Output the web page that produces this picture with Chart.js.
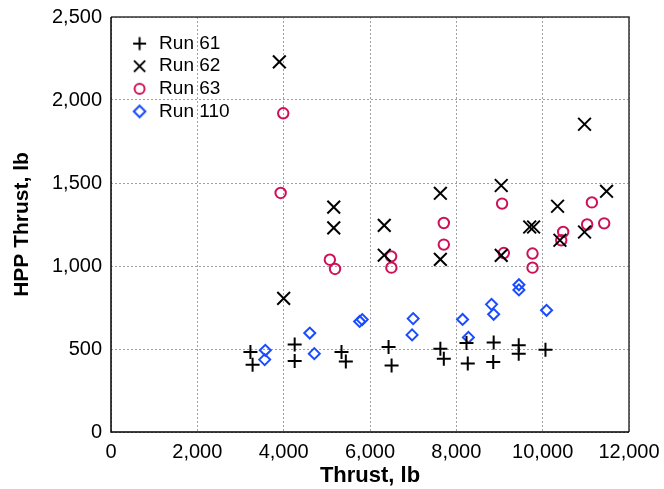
<!DOCTYPE html>
<html><head><meta charset="utf-8">
<script src="https://cdn.jsdelivr.net/npm/chart.js@4.4.1/dist/chart.umd.min.js"></script>
<style>html,body{margin:0;padding:0;background:#fff}#wrap{width:664px;height:489px}</style>
</head><body><div id="wrap"><canvas id="c" width="664" height="489"></canvas></div>
<script>
// ---- data ----
const seriesNames = ['Run 61', 'Run 62', 'Run 63', 'Run 110'];

const run61Thrust = [3230, 3280, 4255, 4255, 5340, 5440, 6430, 6500, 7630, 7710, 8235, 8265, 8865, 8855, 9445, 9445, 10065];
const run61Hpp    = [ 482,  405,  527,  427,  482,  424,  512,  400,  502,  442,  536,  412,  539,  422,  522,  472,   496];

const run62Thrust = [3900, 4000, 5160, 5160, 6330, 6330, 7630, 7630, 9040, 9040, 9700, 9790, 10345, 10400, 10970, 10970, 11480];
const run62Hpp    = [2230,  805, 1355, 1230, 1245, 1065, 1438, 1040, 1485, 1064, 1235, 1235,  1360,  1155,  1854,  1205,  1450];

const run63Thrust = [3990, 3930, 5070, 5190, 6490, 6495, 7710, 7710, 9060, 9100, 9765, 9765, 10475, 10430, 11030, 11140, 11425];
const run63Hpp    = [1920, 1440, 1038,  982, 1058,  990, 1259, 1129, 1376, 1078, 1075,  990,  1205,  1155,  1250,  1383,  1257];

const run110Thrust = [3575, 3560, 4605, 4710, 5760, 5820, 7000, 6975, 8145, 8280, 8815, 8865, 9450, 9450, 10090];
const run110Hpp    = [ 492,  436,  596,  472,  666,  677,  683,  585,  678,  570,  769,  709,  887,  856,   733];

const xTickValues = [0, 2000, 4000, 6000, 8000, 10000, 12000];
const yTickValues = [0, 500, 1000, 1500, 2000, 2500];

const xTitle = 'Thrust, lb';
const yTitle = 'HPP Thrust, lb';

// ---- styles ----
const BLACK = '#000000', CRIMSON = '#cf1058', BLUE = '#1a4cff';
const FONT = '"Liberation Sans", Arial, Helvetica, sans-serif';

function pts(xs, ys) { return xs.map((x, i) => ({x: x, y: ys[i]})); }

function legendMarker(kind, color) {
  const c = document.createElement('canvas');
  c.width = 40; c.height = 22;
  const g = c.getContext('2d');
  const cx = 27.5, cy = 11;
  g.strokeStyle = color; g.lineWidth = 2; g.beginPath();
  if (kind === 'plus') { g.moveTo(cx - 6.5, cy); g.lineTo(cx + 6.5, cy); g.moveTo(cx, cy - 6.5); g.lineTo(cx, cy + 6.5); }
  else if (kind === 'x') { const r = 5.6; g.moveTo(cx - r, cy - r); g.lineTo(cx + r, cy + r); g.moveTo(cx + r, cy - r); g.lineTo(cx - r, cy + r); }
  else if (kind === 'circle') { g.arc(cx, cy, 5, 0, Math.PI * 2); }
  else { const r = 5.8; g.moveTo(cx - r, cy); g.lineTo(cx, cy - r); g.lineTo(cx + r, cy); g.lineTo(cx, cy + r); g.closePath(); }
  g.stroke();
  return c;
}
const legendImgs = [legendMarker('plus', BLACK), legendMarker('x', BLACK), legendMarker('circle', CRIMSON), legendMarker('diamond', BLUE)];

const framePlugin = {
  id: 'frame',
  beforeDatasetsDraw(chart) {
    const a = chart.chartArea, ctx = chart.ctx;
    ctx.save();
    ctx.lineWidth = 1.5;
    ctx.strokeStyle = '#333';
    ctx.beginPath();
    ctx.moveTo(a.left, a.top); ctx.lineTo(a.right, a.top); ctx.lineTo(a.right, a.bottom);
    ctx.stroke();
    ctx.strokeStyle = '#000';
    ctx.beginPath();
    ctx.moveTo(a.left, a.top); ctx.lineTo(a.left, a.bottom); ctx.lineTo(a.right, a.bottom);
    ctx.stroke();
    ctx.restore();
  }
};

const fmt = v => Number(v).toLocaleString('en-US');
function noPad(s) { s.paddingLeft = 0; s.paddingRight = 0; s.paddingTop = 0; s.paddingBottom = 0; }

new Chart(document.getElementById('c'), {
  type: 'scatter',
  data: {
    datasets: [
      {label: seriesNames[0], data: pts(run61Thrust, run61Hpp), pointStyle: 'cross', pointRadius: 7, borderColor: BLACK, backgroundColor: BLACK, pointBorderWidth: 2},
      {label: seriesNames[1], data: pts(run62Thrust, run62Hpp), pointStyle: 'crossRot', pointRadius: 9, borderColor: BLACK, backgroundColor: BLACK, pointBorderWidth: 2},
      {label: seriesNames[2], data: pts(run63Thrust, run63Hpp), pointStyle: 'circle', pointRadius: 5.2, borderColor: CRIMSON, backgroundColor: 'rgba(0,0,0,0)', pointBorderWidth: 2},
      {label: seriesNames[3], data: pts(run110Thrust, run110Hpp), pointStyle: 'rectRot', pointRadius: 5.5, borderColor: BLUE, backgroundColor: 'rgba(0,0,0,0)', pointBorderWidth: 2}
    ]
  },
  options: {
    responsive: false,
    animation: false,
    layout: {padding: {left: 0, top: 17, right: 35, bottom: 0}},
    plugins: {
      tooltip: {enabled: false},
      legend: {
        position: 'chartArea',
        align: 'start',
        title: {display: true, text: '', font: {size: 10, lineHeight: 1}, padding: {top: 0, bottom: 20.5}},
        labels: {
          usePointStyle: true,
          pointStyleWidth: 35,
          padding: 3.6,
          color: '#000',
          font: {family: FONT, size: 19},
          generateLabels(chart) {
            const items = Chart.defaults.plugins.legend.labels.generateLabels(chart);
            items.forEach((it, i) => { it.pointStyle = legendImgs[i]; it.fontColor = '#000'; });
            return items;
          }
        }
      }
    },
    scales: {
      x: {
        type: 'linear', min: xTickValues[0], max: xTickValues[xTickValues.length - 1],
        afterBuildTicks(s) { s.ticks = xTickValues.map(v => ({value: v})); },
        afterFit(s) { s.height = 57; noPad(s); },
        ticks: {color: '#000', font: {family: FONT, size: 20}, padding: 8, maxRotation: 0, callback: fmt},
        grid: {color: '#a0a0a0', lineWidth: 1, drawTicks: false},
        border: {display: false, dash: [2, 2]},
        title: {display: true, text: xTitle, color: '#000', font: {family: FONT, size: 22, weight: 'bold'}, padding: {top: 0, bottom: 0}}
      },
      y: {
        type: 'linear', min: yTickValues[0], max: yTickValues[yTickValues.length - 1],
        afterBuildTicks(s) { s.ticks = yTickValues.map(v => ({value: v})); },
        afterFit(s) { s.width = 111; noPad(s); },
        ticks: {color: '#000', font: {family: FONT, size: 20}, padding: 9, callback: fmt},
        grid: {color: '#a0a0a0', lineWidth: 1, drawTicks: false},
        border: {display: false, dash: [2, 2]},
        title: {display: true, text: yTitle, color: '#000', font: {family: FONT, size: 21, weight: 'bold'}, padding: {top: 10, bottom: 0}}
      }
    }
  },
  plugins: [framePlugin]
});
</script></body></html>
